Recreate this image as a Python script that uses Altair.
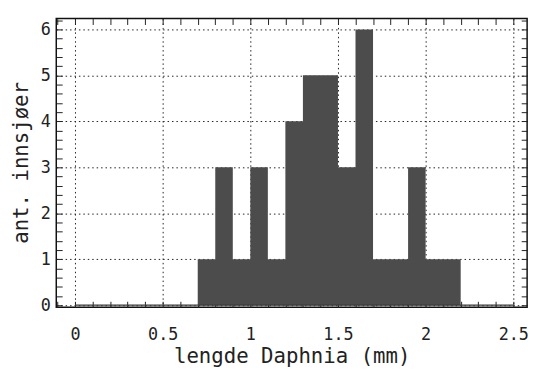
import altair as alt
import pandas as pd

# histogram bins (mm) and counts
bin_start = [0.0, 0.1, 0.2, 0.3, 0.4, 0.5, 0.6, 0.7, 0.8, 0.9, 1.0, 1.1, 1.2,
             1.3, 1.4, 1.5, 1.6, 1.7, 1.8, 1.9, 2.0, 2.1, 2.2, 2.3, 2.4]
bin_end = [0.1, 0.2, 0.3, 0.4, 0.5, 0.6, 0.7, 0.8, 0.9, 1.0, 1.1, 1.2, 1.3,
           1.4, 1.5, 1.6, 1.7, 1.8, 1.9, 2.0, 2.1, 2.2, 2.3, 2.4, 2.5]
counts = [0, 0, 0, 0, 0, 0, 0, 1, 3, 1, 3, 1, 4,
          5, 5, 3, 6, 1, 1, 3, 1, 1, 0, 0, 0]

x_labels = [0, 0.5, 1, 1.5, 2, 2.5]
y_labels = [0, 1, 2, 3, 4, 5, 6]
x_minor = [-0.1, 0.0, 0.1, 0.2, 0.3, 0.4, 0.5, 0.6, 0.7, 0.8, 0.9, 1.0, 1.1,
           1.2, 1.3, 1.4, 1.5, 1.6, 1.7, 1.8, 1.9, 2.0, 2.1, 2.2, 2.3, 2.4, 2.5]
y_minor = [0.0, 0.2, 0.4, 0.6, 0.8, 1.0, 1.2, 1.4, 1.6, 1.8, 2.0, 2.2, 2.4,
           2.6, 2.8, 3.0, 3.2, 3.4, 3.6, 3.8, 4.0, 4.2, 4.4, 4.6, 4.8, 5.0,
           5.2, 5.4, 5.6, 5.8, 6.0, 6.2]

x_domain = [-0.107, 2.579]
y_domain = [-0.045, 6.235]

df = pd.DataFrame({"start": bin_start, "end": bin_end, "count": counts})
base_df = pd.DataFrame({"x0": [bin_start[0]], "x1": [bin_end[-1]], "y0": [0]})

FONT = "DejaVu Sans Mono"
BAR = "#4c4c4c"
xs = alt.Scale(domain=x_domain, nice=False, zero=False)
ys = alt.Scale(domain=y_domain, nice=False, zero=False)

grid_kw = dict(grid=True, gridColor="#222", gridDash=[1.5, 3], gridWidth=1)

bars = alt.Chart(df).mark_area(color=BAR, interpolate="step-after", opacity=1).encode(
    x=alt.X("start:Q", scale=xs,
            axis=alt.Axis(values=x_labels, format="~g", ticks=False, tickSize=0,
                          domain=False, labelPadding=20, labelFontSize=17,
                          title="lengde Daphnia (mm)", titleFontSize=21,
                          titleY=56, titleBaseline="alphabetic", **grid_kw)),
    y=alt.Y("count:Q", scale=ys,
            axis=alt.Axis(values=y_labels, ticks=False, tickSize=0,
                          domain=False, labelPadding=6, labelFontSize=17,
                          title="ant. innsjøer", titleFontSize=21,
                          titleX=-35, titleY=146, titleAngle=-90,
                          titleAlign="center", titleBaseline="middle",
                          **grid_kw)),
    y2=alt.Y2(datum=0),
)

baseline = alt.Chart(base_df).mark_rule(color="#3a3a3a", strokeWidth=1.5).encode(
    x=alt.X("x0:Q", scale=xs, axis=None),
    x2="x1:Q",
    y=alt.Y("y0:Q", scale=ys, axis=None),
)

tick_kw = dict(labels=False, domain=False, grid=False, title=None,
               tickSize=6, tickColor="#222", tickWidth=1, offset=-6)

ticks_a = alt.Chart(df).mark_point(opacity=0).encode(
    x=alt.X("start:Q", scale=xs, axis=alt.Axis(orient="bottom", values=x_minor, **tick_kw)),
    y=alt.Y("count:Q", scale=ys, axis=alt.Axis(orient="left", values=y_minor, **tick_kw)),
)
ticks_b = alt.Chart(df).mark_point(opacity=0).encode(
    x=alt.X("start:Q", scale=xs, axis=alt.Axis(orient="top", values=x_minor, **tick_kw)),
    y=alt.Y("count:Q", scale=ys, axis=alt.Axis(orient="right", values=y_minor, **tick_kw)),
)

chart = alt.layer(bars, baseline, ticks_a, ticks_b).resolve_axis(
    x="independent", y="independent"
).properties(
    width=478, height=293,
    autosize=alt.AutoSizeParams(type="none"),
    padding={"left": 49, "top": 8, "right": 8, "bottom": 60},
    background="white",
).configure_view(
    stroke="#111", strokeWidth=1.5
).configure_axis(
    labelFont=FONT, titleFont=FONT, labelColor="#222", titleColor="#222",
    titleFontWeight="normal",
)

chart.save("out.html", embed_options={"renderer": "svg", "actions": False})
